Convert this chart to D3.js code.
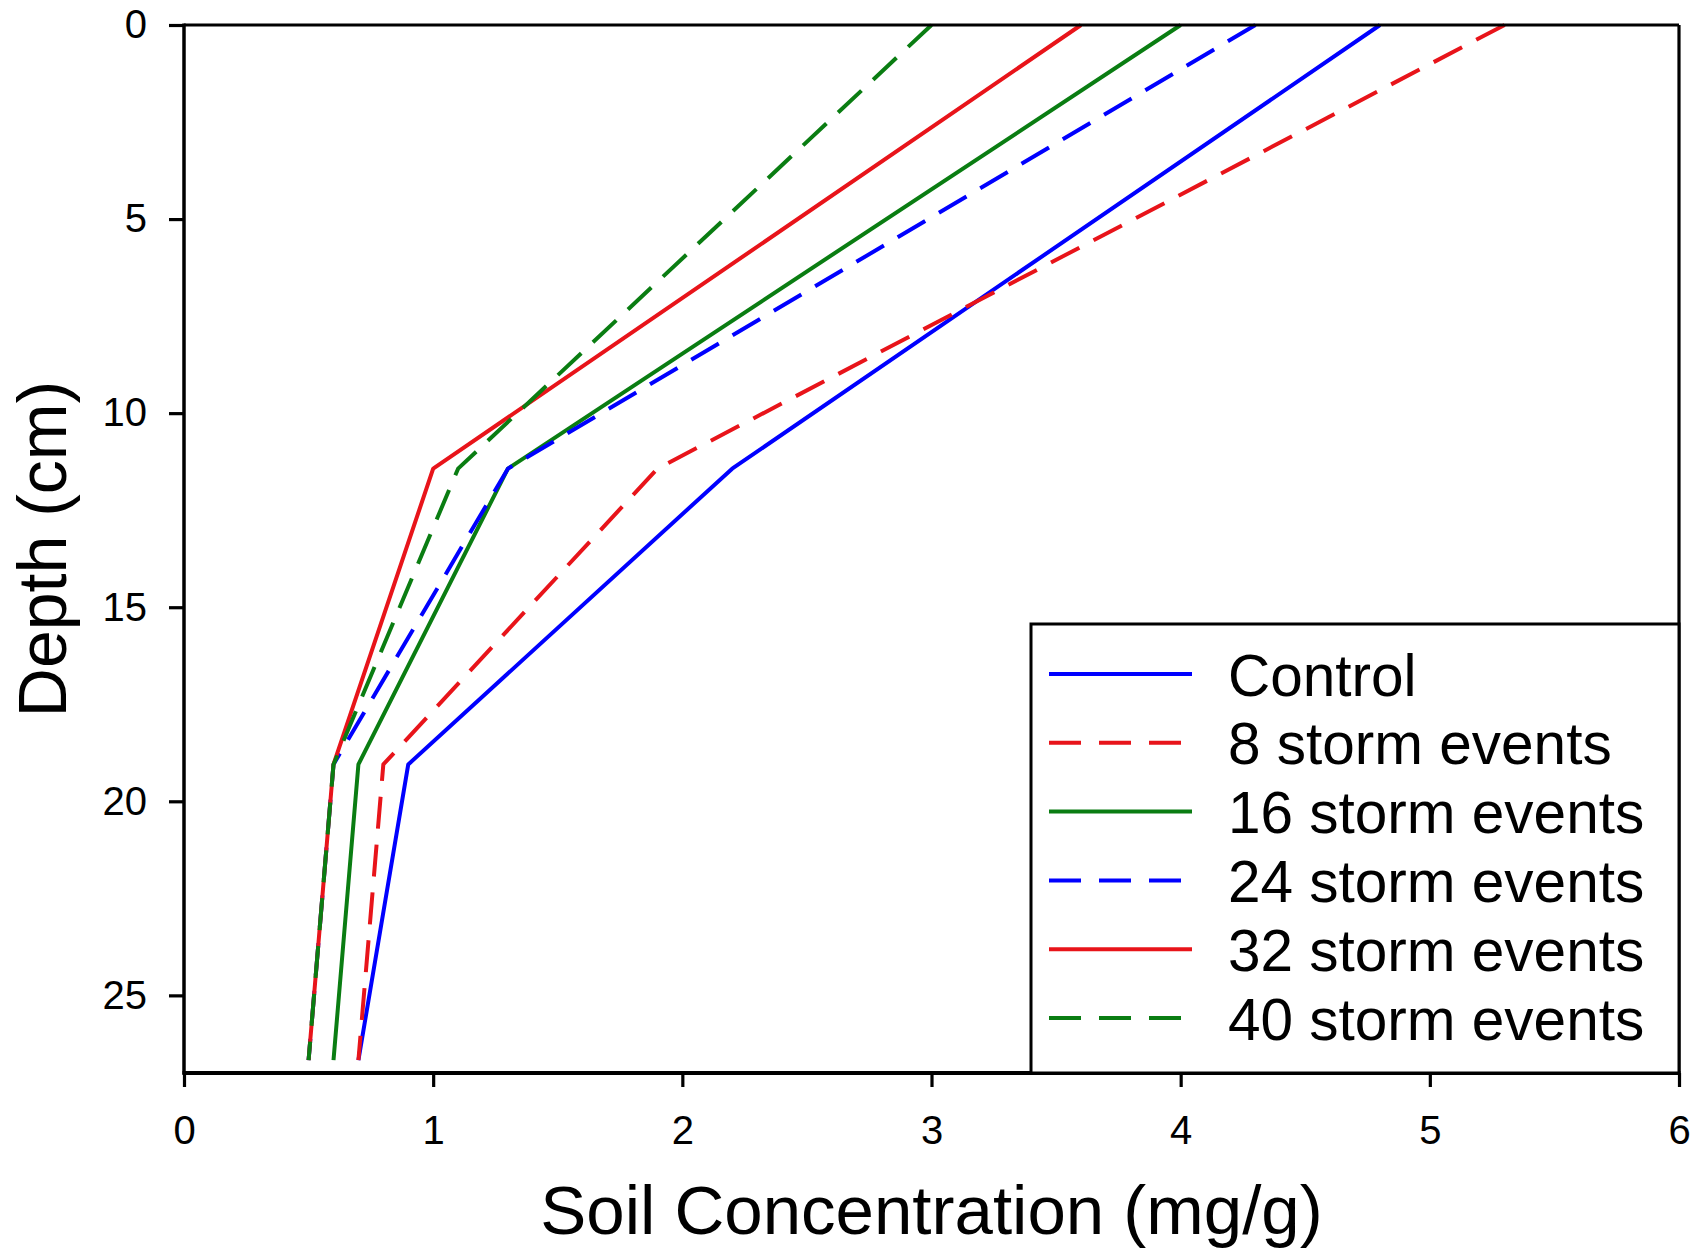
<!DOCTYPE html>
<html>
<head>
<meta charset="utf-8">
<script src="https://cdn.jsdelivr.net/npm/d3@7"></script>
<style>
  html, body { margin: 0; padding: 0; background: #fff; }
  svg { display: block; font-family: "Liberation Sans", Arial, sans-serif; }
</style>
</head>
<body>
<svg id="chart" width="1704" height="1251"></svg>
<script>
// Depths (cm) of the sampling points
const depths = [0, 11.43, 19.05, 26.67];

// Soil concentration (mg/g) per series at each depth
const control = [4.8, 2.2, 0.9, 0.7];
const storm8  = [5.3, 1.9, 0.8, 0.7];
const storm16 = [4.0, 1.3, 0.7, 0.6];
const storm24 = [4.3, 1.3, 0.6, 0.5];
const storm32 = [3.6, 1.0, 0.6, 0.5];
const storm40 = [3.0, 1.1, 0.6, 0.5];

const seriesNames = ["Control", "8 storm events", "16 storm events", "24 storm events", "32 storm events", "40 storm events"];
const seriesValues = [control, storm8, storm16, storm24, storm32, storm40];
const seriesColors = ["#0000ff", "#e8141a", "#0a7d12", "#0000ff", "#e8141a", "#0a7d12"];
const seriesDashed = [false, true, false, true, false, true];

const xTicks = [0, 1, 2, 3, 4, 5, 6];
const yTicks = [0, 5, 10, 15, 20, 25];

(function () {
const svg = d3.select("#chart");
const pL = 184, pR = 1679, pT = 25, pB = 1073;

const x = d3.scaleLinear().domain([0, 6]).range([pL, pR]);
const y = d3.scaleLinear().domain([0, 27]).range([pT, pB]);

// Axes
const xAxis = svg.append("g")
  .attr("transform", `translate(0,${pB})`)
  .call(d3.axisBottom(x).tickValues(xTicks).tickFormat(d3.format("d")).tickSize(14).tickPadding(29).tickSizeOuter(0));
const yAxis = svg.append("g")
  .attr("transform", `translate(${pL},0)`)
  .call(d3.axisLeft(y).tickValues(yTicks).tickFormat(d3.format("d")).tickSize(15).tickPadding(22).tickSizeOuter(0));

[xAxis, yAxis].forEach(g => {
  g.select(".domain").remove();
  g.selectAll(".tick line").attr("stroke", "#000").attr("stroke-width", 3.2);
  g.selectAll(".tick text").attr("fill", "#000").style("font-size", "40px")
    .style("font-family", "'Liberation Sans', Arial, sans-serif");
});

// Series lines
const line = d3.line()
  .x(d => x(d[0]))
  .y(d => y(d[1]));

seriesValues.forEach((vals, i) => {
  const pts = vals.map((v, j) => [v, depths[j]]);
  svg.append("path")
    .datum(pts)
    .attr("fill", "none")
    .attr("stroke", seriesColors[i])
    .attr("stroke-width", 4)
    .attr("stroke-linejoin", "round")
    .attr("stroke-dasharray", seriesDashed[i] ? "32,16" : null)
    .attr("d", line);
});

// Frame
svg.append("line").attr("x1", pL).attr("x2", pR).attr("y1", pT).attr("y2", pT)
  .attr("stroke", "#000").attr("stroke-width", 3);
svg.append("line").attr("x1", pR).attr("x2", pR).attr("y1", pT).attr("y2", pB)
  .attr("stroke", "#000").attr("stroke-width", 3.2);
svg.append("line").attr("x1", pL).attr("x2", pL).attr("y1", pT - 1.5).attr("y2", pB + 1.5)
  .attr("stroke", "#000").attr("stroke-width", 3.5);
svg.append("line").attr("x1", pL - 1.5).attr("x2", pR + 1.5).attr("y1", pB).attr("y2", pB)
  .attr("stroke", "#000").attr("stroke-width", 3.8);

// Legend
const legX0 = 1031, legY0 = 624;
svg.append("rect")
  .attr("x", legX0).attr("y", legY0)
  .attr("width", pR - legX0).attr("height", pB - legY0)
  .attr("fill", "#fff").attr("stroke", "#000").attr("stroke-width", 3);

const legStep = 68.8, legFirst = 674;
seriesNames.forEach((name, i) => {
  const cy = legFirst + i * legStep;
  svg.append("line")
    .attr("x1", 1049).attr("x2", seriesDashed[i] ? 1181 : 1192)
    .attr("y1", cy).attr("y2", cy)
    .attr("stroke", seriesColors[i]).attr("stroke-width", 4)
    .attr("stroke-dasharray", seriesDashed[i] ? "32,18" : null);
  svg.append("text")
    .attr("x", 1228).attr("y", cy + 21.5)
    .style("font-size", "58.5px")
    .attr("fill", "#000")
    .text(name);
});

// Axis titles
svg.append("text")
  .attr("x", (pL + pR) / 2).attr("y", 1234)
  .attr("text-anchor", "middle")
  .style("font-size", "69px")
  .text("Soil Concentration (mg/g)");

svg.append("text")
  .attr("transform", `translate(66,${(pT + pB) / 2}) rotate(-90)`)
  .attr("text-anchor", "middle")
  .style("font-size", "68px")
  .text("Depth (cm)");
})();
</script>
</body>
</html>
